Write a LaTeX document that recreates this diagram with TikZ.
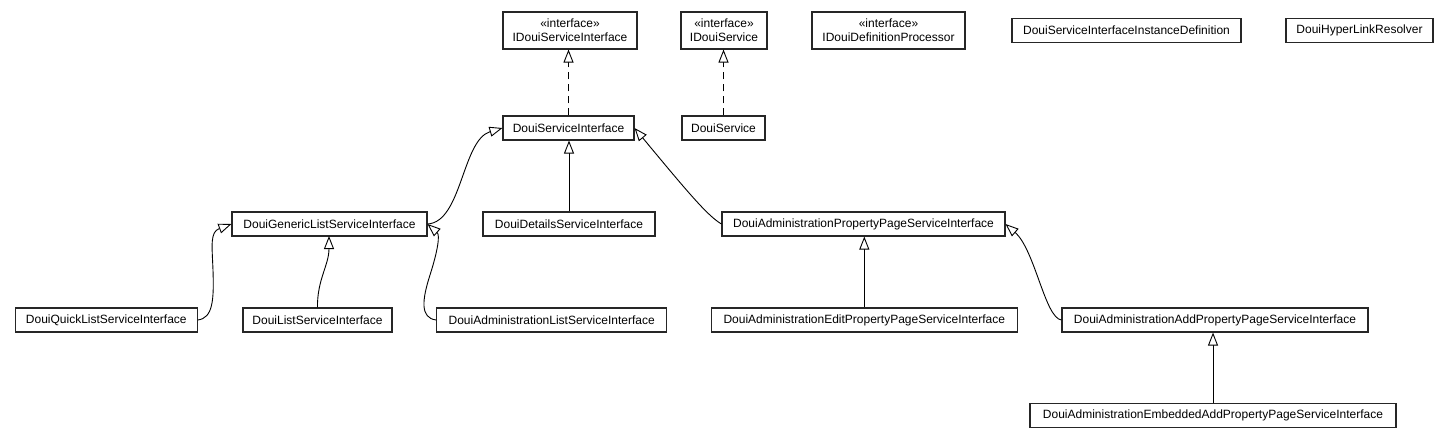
\documentclass[tikz,border=0pt]{standalone}
\usepackage{fontspec}
\setmainfont{Liberation Sans}
\usetikzlibrary{arrows.meta}
\tikzset{
  cls/.style={draw=black!85, line width=1.1pt, fill=white, inner sep=0pt,
    minimum height=24pt, font=\fontsize{12}{14}\selectfont, align=center},
  iface/.style={cls, minimum height=37pt},
  inherit/.style={draw=black, line width=0.9pt,
    -{Triangle[length=13pt, width=10pt, fill=white, line width=0.9pt]}},
  realize/.style={inherit, dash pattern=on 7pt off 5pt}
}
\begin{document}
\begin{tikzpicture}[x=1pt, y=-1pt]
\useasboundingbox (0,0) rectangle (1449,445);
% interfaces and free classes
\node[iface, minimum width=134pt] (isi) at (570,30.5) {«interface»\\IDouiServiceInterface};
\node[iface, minimum width=86pt] (is) at (724,30.5) {«interface»\\IDouiService};
\node[iface, minimum width=153pt] (idp) at (888.5,30.5) {«interface»\\IDouiDefinitionProcessor};
\node[cls, minimum width=229pt] (sid) at (1126.5,30.5) {DouiServiceInterfaceInstanceDefinition};
\node[cls, minimum width=147pt] (hlr) at (1359.5,30.5) {DouiHyperLinkResolver};
% second row
\node[cls, minimum width=131pt] (dsi) at (568.5,128) {DouiServiceInterface};
\node[cls, minimum width=83pt] (ds) at (723.5,128) {DouiService};
% third row
\node[cls, minimum width=195pt] (gen) at (329.5,224) {DouiGenericListServiceInterface};
\node[cls, minimum width=172pt] (det) at (569,224) {DouiDetailsServiceInterface};
\node[cls, minimum width=283pt] (app) at (863.5,224) {DouiAdministrationPropertyPageServiceInterface};
% fourth row
\node[cls, minimum width=182pt] (quick) at (106.3,320) {DouiQuickListServiceInterface};
\node[cls, minimum width=149pt] (list) at (317.5,320) {DouiListServiceInterface};
\node[cls, minimum width=230pt] (alist) at (551.7,320) {DouiAdministrationListServiceInterface};
\node[cls, minimum width=306pt] (edit) at (864.3,320) {DouiAdministrationEditPropertyPageServiceInterface};
\node[cls, minimum width=306pt] (add) at (1215,320) {DouiAdministrationAddPropertyPageServiceInterface};
% fifth row
\node[cls, minimum width=366pt] (emb) at (1213,415.5) {DouiAdministrationEmbeddedAddPropertyPageServiceInterface};
% realizations
\draw[realize] (dsi.north) -- (dsi.north |- isi.south);
\draw[realize] (ds.north) -- (ds.north |- is.south);
% generalizations
\draw[inherit] (det.north) -- (det.north |- dsi.south);
\draw[inherit] (gen.east) .. controls (462,222) and (462,140) .. (dsi.west);
\draw[inherit] (app.west) .. controls (708,216) and (690,195) .. (dsi.east);
\draw[inherit] (list.north) .. controls (317,280) and (329,265) .. (329,236);
\draw[inherit] (alist.west) .. controls (420,318) and (422,300) .. (430,275)
  .. controls (438,250) and (440,235) .. (gen.east);
\draw[inherit] (quick.east) .. controls (213,318) and (214,300) .. (213,270)
  .. controls (212,245) and (210,232) .. (gen.west);
\draw[inherit] (edit.north) -- (edit.north |- app.south);
\draw[inherit] (add.west) .. controls (1045,318) and (1035,250) .. (app.east);
\draw[inherit] (emb.north) -- (emb.north |- add.south);
\end{tikzpicture}
\end{document}
